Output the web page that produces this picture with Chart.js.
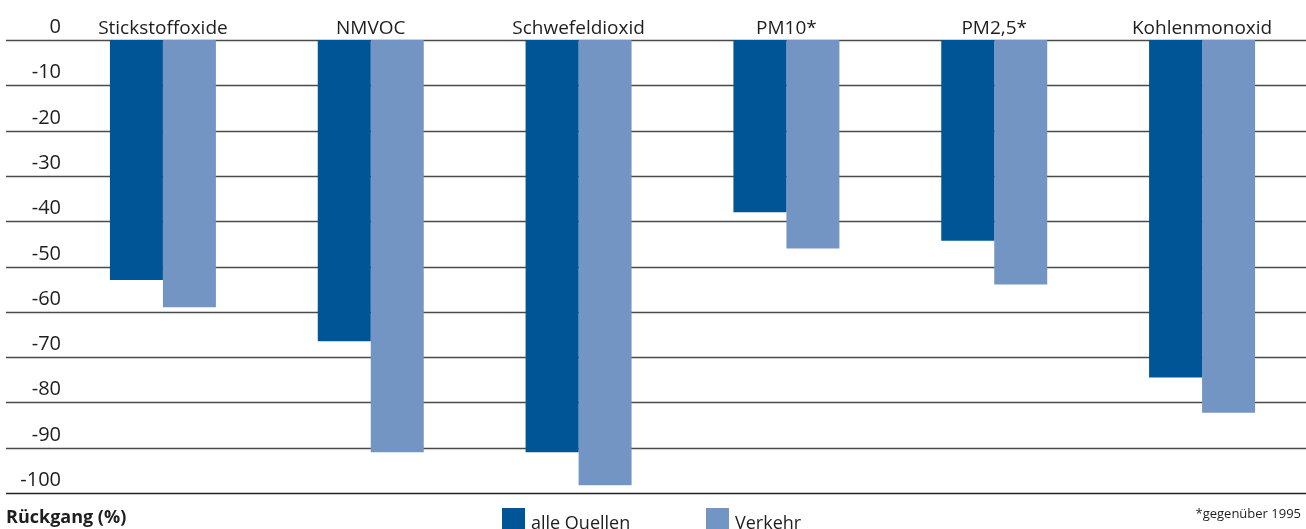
<!DOCTYPE html>
<html>
<head>
<meta charset="utf-8">
<script src="https://cdn.jsdelivr.net/npm/chart.js@4/dist/chart.umd.min.js"></script>
<style>
  html, body { margin: 0; padding: 0; background: #fff; }
  #wrap { width: 1306px; height: 529px; }
</style>
</head>
<body>
<div id="wrap"><canvas id="c" width="1306" height="529"></canvas></div>
<script>
const categories = ["Stickstoffoxide", "NMVOC", "Schwefeldioxid", "PM10*", "PM2,5*", "Kohlenmonoxid"];
const alleQuellen = [-53, -66.5, -91, -38, -44.3, -74.5];
const verkehr = [-59, -91, -98.3, -46, -54, -82.3];
const seriesNames = ["alle Quellen", "Verkehr"];
const tickValues = [0, -10, -20, -30, -40, -50, -60, -70, -80, -90, -100];
const tickLabels = ["0", "-10", "-20", "-30", "-40", "-50", "-60", "-70", "-80", "-90", "-100"];
const axisTitle = "Rückgang (%)";
const footnote = "*gegenüber 1995";

const FONT = "'Open Sans', 'Noto Sans', sans-serif";
const TEXT = "#1e1e1e";
const colors = ["#005596", "#7395c3"];

const overlay = {
  id: 'overlay',
  beforeDatasetsDraw(chart) {
    const ctx = chart.ctx;
    const y = chart.scales.y;
    ctx.save();
    tickValues.forEach((v, i) => {
      const py = Math.round(y.getPixelForValue(v)) + 0.5;
      ctx.beginPath();
      ctx.strokeStyle = (v === -100) ? '#222' : '#4a4a4a';
      ctx.lineWidth = 1.4;
      ctx.moveTo(6, py);
      ctx.lineTo(1306, py);
      ctx.stroke();
      ctx.fillStyle = TEXT;
      ctx.font = "20px " + FONT;
      ctx.textAlign = 'right';
      ctx.textBaseline = 'alphabetic';
      ctx.fillText(tickLabels[i], 61, py - 8);
    });
    ctx.restore();
  },
  afterDraw(chart) {
    const ctx = chart.ctx;
    ctx.save();
    ctx.fillStyle = TEXT;
    ctx.textBaseline = 'alphabetic';
    ctx.textAlign = 'left';
    ctx.font = "bold 18px " + FONT;
    ctx.fillText(axisTitle, 6, 523);
    const lx = [502, 706];
    chart.data.datasets.forEach((ds, i) => {
      ctx.fillStyle = ds.backgroundColor;
      ctx.fillRect(lx[i], 508, 23, 23);
      ctx.fillStyle = TEXT;
      ctx.font = "18px " + FONT;
      ctx.fillText(ds.label, lx[i] + 29, 529);
    });
    ctx.font = "13px " + FONT;
    ctx.textAlign = 'right';
    ctx.fillText(footnote, 1301, 518);
    ctx.restore();
  }
};

new Chart(document.getElementById('c'), {
  type: 'bar',
  data: {
    labels: categories,
    datasets: [
      { label: seriesNames[0], data: alleQuellen, backgroundColor: colors[0], borderWidth: 0 },
      { label: seriesNames[1], data: verkehr, backgroundColor: colors[1], borderWidth: 0 }
    ]
  },
  options: {
    responsive: false,
    animation: false,
    devicePixelRatio: 1,
    layout: { padding: { left: 59, right: 0, top: 17.2, bottom: 36 } },
    plugins: { legend: { display: false }, tooltip: { enabled: false } },
    datasets: { bar: { categoryPercentage: 0.51, barPercentage: 1.0 } },
    scales: {
      x: {
        position: 'top',
        grid: { display: false, drawTicks: false },
        border: { display: false },
        ticks: { color: TEXT, font: { size: 19, family: FONT }, padding: 0, maxRotation: 0, autoSkip: false }
      },
      y: {
        display: false,
        min: -100,
        max: 0,
        ticks: { stepSize: 10 }
      }
    }
  },
  plugins: [overlay]
});
</script>
</body>
</html>
